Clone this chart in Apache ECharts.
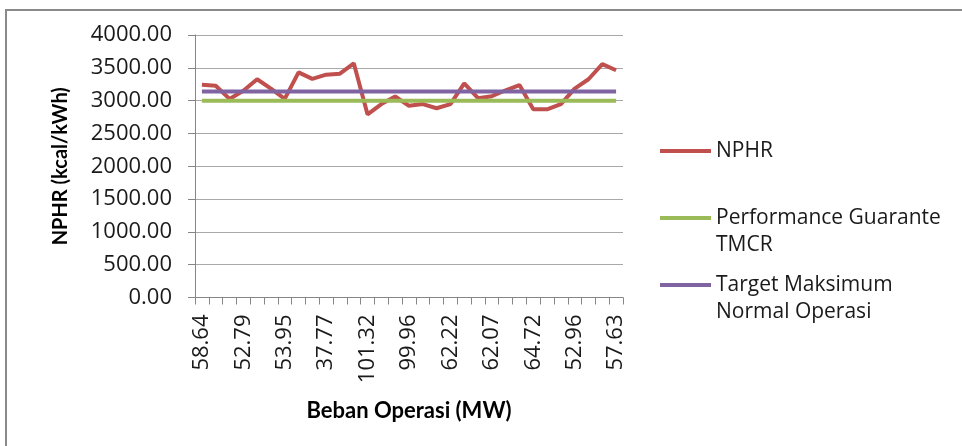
<!DOCTYPE html>
<html>
<head>
<meta charset="utf-8">
<script src="https://cdn.jsdelivr.net/npm/echarts@6/dist/echarts.min.js"></script>
<style>
  html, body { margin: 0; padding: 0; background: #fff; }
  #frame { position: absolute; left: 5px; top: 9px; width: 1000px; height: 500px;
           border-left: 2px solid #8a8a8a; border-top: 2px solid #8a8a8a; }
  #chart { position: absolute; left: 0; top: 0; width: 962px; height: 446px; }
</style>
</head>
<body>
<div id="frame"></div>
<div id="chart"></div>
<script>
// Category labels (MW) - only every third is legible in the reference; others estimated
const categories = ['58.64','57.10','55.32','52.79','50.41','54.88','53.95','45.20','40.15','37.77',
  '38.90','35.46','101.32','100.85','100.12','99.96','80.45','70.31','62.22','63.10',
  '61.85','62.07','63.50','65.18','64.72','60.33','55.40','52.96','54.21','56.08','57.63'];

const nphr = [3242,3226,3026,3150,3326,3184,3026,3431,3331,3395,
  3410,3568,2790,2947,3063,2921,2947,2884,2947,3263,
  3037,3068,3158,3237,2868,2868,2947,3184,3326,3557,3463];

const guarantee = [3000,3000,3000,3000,3000,3000,3000,3000,3000,3000,
  3000,3000,3000,3000,3000,3000,3000,3000,3000,3000,
  3000,3000,3000,3000,3000,3000,3000,3000,3000,3000,3000];

const targetMax = [3140,3140,3140,3140,3140,3140,3140,3140,3140,3140,
  3140,3140,3140,3140,3140,3140,3140,3140,3140,3140,
  3140,3140,3140,3140,3140,3140,3140,3140,3140,3140,3140];

const seriesNames = ['NPHR', 'Performance Guarante\nTMCR', 'Target Maksimum\nNormal Operasi'];
const yTicks = { min: 0, max: 4000, interval: 500 };

const chart = echarts.init(document.getElementById('chart'), null, { renderer: 'canvas' });

const normalFont = "'Open Sans', sans-serif";
const boldFont = "Lato, 'Open Sans', sans-serif";
const axisGray = '#868686';

function legendFor(name, top, twoLine) {
  return {
    data: [name],
    orient: 'vertical',
    left: 660,
    top: top,
    padding: 0,
    itemWidth: 51,
    itemHeight: 4,
    icon: 'rect',
    selectedMode: false,
    // a leading blank line keeps the icon level with the first text line
    formatter: twoLine ? (n => '\n' + n) : (n => n),
    textStyle: {
      fontFamily: normalFont, fontSize: 21, color: '#1a1a1a', lineHeight: 27
    }
  };
}

chart.setOption({
  animation: false,
  backgroundColor: 'transparent',
  grid: { left: 195, top: 35, right: 339, bottom: 148.5, containLabel: false },
  legend: [
    legendFor(seriesNames[0], 137.5, false),
    legendFor(seriesNames[1], 177.5, true),
    legendFor(seriesNames[2], 244.5, true)
  ],
  xAxis: {
    type: 'category',
    data: categories,
    boundaryGap: true,
    name: 'Beban Operasi (MW)',
    nameLocation: 'middle',
    nameGap: 102,
    nameTextStyle: { fontFamily: boldFont, fontWeight: 'bold', fontSize: 22, color: '#000' },
    axisLine: { show: true, lineStyle: { color: axisGray, width: 1 } },
    axisTick: { show: true, interval: 0, length: 7, lineStyle: { color: axisGray } },
    axisLabel: {
      interval: 2, rotate: 90, margin: 17,
      fontFamily: normalFont, fontSize: 22, color: '#1a1a1a'
    },
    splitLine: { show: false }
  },
  yAxis: {
    type: 'value',
    min: yTicks.min, max: yTicks.max, interval: yTicks.interval,
    name: 'NPHR (kcal/kWh)',
    nameLocation: 'middle',
    nameRotate: 90,
    nameGap: 124,
    nameTextStyle: { fontFamily: boldFont, fontWeight: 'bold', fontSize: 20, color: '#000' },
    axisLine: { show: true, lineStyle: { color: axisGray, width: 1 } },
    axisTick: { show: true, length: 7, lineStyle: { color: axisGray } },
    axisLabel: {
      margin: 23,
      formatter: v => v.toFixed(2),
      fontFamily: normalFont, fontSize: 22, color: '#1a1a1a'
    },
    splitLine: { show: true, lineStyle: { color: '#a8a8a8', width: 1 } }
  },
  series: [
    { name: seriesNames[1], type: 'line', data: guarantee, symbol: 'none',
      lineStyle: { color: '#9BBB59', width: 4 }, itemStyle: { color: '#9BBB59' }, z: 2 },
    { name: seriesNames[2], type: 'line', data: targetMax, symbol: 'none',
      lineStyle: { color: '#8064A2', width: 4 }, itemStyle: { color: '#8064A2' }, z: 3 },
    { name: seriesNames[0], type: 'line', data: nphr, symbol: 'none',
      lineStyle: { color: '#C0504D', width: 4 }, itemStyle: { color: '#C0504D' }, z: 1 }
  ]
});
</script>
</body>
</html>
